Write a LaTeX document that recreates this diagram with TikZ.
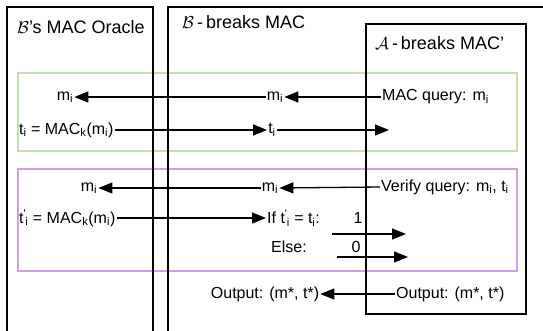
\documentclass[tikz,border=0pt]{standalone}
\usepackage{fontspec}
\setmainfont{Liberation Sans}
\usetikzlibrary{arrows.meta}
\definecolor{querygreen}{RGB}{192,224,172}
\definecolor{verifypurple}{RGB}{206,158,234}
\newcommand{\sub}[2]{#1\textsubscript{#2}}
\newcommand{\tprime}{t\textsuperscript{\textquotesingle}\kern-0.05em\textsubscript{i}}
\begin{document}
\begin{tikzpicture}[x=1pt,y=-1pt,
  party/.style={draw=black,line width=1.4pt},
  phase/.style={line width=1.8pt},
  heading/.style={anchor=west,inner sep=0pt,font=\fontsize{18}{20}\selectfont},
  txt/.style={inner sep=1pt,font=\fontsize{16}{18}\selectfont},
  msg/.style={line width=1.3pt,-{Triangle[length=14pt,width=11pt]}}]
\useasboundingbox (0,0) rectangle (543,330);
\fill[white] (0,0) rectangle (543,330);

% query and verify phases
\draw[phase,draw=querygreen] (18,73) rectangle (517,151);
\draw[phase,draw=verifypurple] (18,169) rectangle (517,271);

% the three parties
\draw[party] (7,332) -- (7,7) -- (153,7) -- (153,332);
\draw[party] (168,332) -- (168,7) -- (545,7);
\draw[party] (366,24) rectangle (526,314);

\node[heading] (hO) at (17,27) {$\mathcal{B}$'s MAC Oracle};
\node[heading] (hB) at (182,22) {$\mathcal{B}$\,-\,breaks MAC};
\node[heading] (hA) at (375,43) {$\mathcal{A}$\,-\,breaks MAC'};

% MAC queries
\node[txt] (om1) at (65,97) {\sub{m}{i}};
\node[txt] (bm1) at (275,97) {\sub{m}{i}};
\node[txt,anchor=west] (aq) at (381,97) {MAC query: \sub{m}{i}};
\node[txt,anchor=west] (ot1) at (18,130) {\sub{t}{i} = MAC\textsubscript{k}(\sub{m}{i})};
\node[txt] (bt1) at (272,130) {\sub{t}{i}};
\coordinate (at1) at (389,130);

\draw[msg] (aq.west) -- (bm1.east);
\draw[msg] (bm1.west) -- (om1.east);
\draw[msg] (ot1.east) -- (bt1.west);
\draw[msg] (bt1.east) -- (at1);

% verify query
\node[txt] (om2) at (89,188) {\sub{m}{i}};
\node[txt] (bm2) at (270,188) {\sub{m}{i}};
\node[txt,anchor=west] (av) at (380,187) {Verify query: \sub{m}{i}, \sub{t}{i}};
\node[txt,anchor=west] (ot2) at (18,218) {\tprime{} = MAC\textsubscript{k}(\sub{m}{i})};
\node[txt,anchor=west] (bif) at (266,218) {If \tprime{} = \sub{t}{i}:};
\node[txt] (one) at (358,218) {1};
\node[txt,anchor=west] (belse) at (270,247) {Else:};
\node[txt] (zero) at (356,247) {0};
\coordinate (yes0) at (332,234);
\coordinate (yes1) at (406,234);
\coordinate (no0) at (337,257);
\coordinate (no1) at (408,257);

\draw[msg] (av.west) -- (bm2.east);
\draw[msg] (bm2.west) -- (om2.east);
\draw[msg] (ot2.east) -- (bif.west);
\draw[msg] (yes0) -- (yes1);
\draw[msg] (no0) -- (no1);

% forgery
\node[txt] (bout) at (265,294) {Output: (m*, t*)};
\node[txt,anchor=west] (aout) at (395,294) {Output: (m*, t*)};
\draw[msg] (aout.west) -- (bout.east);
\end{tikzpicture}
\end{document}
